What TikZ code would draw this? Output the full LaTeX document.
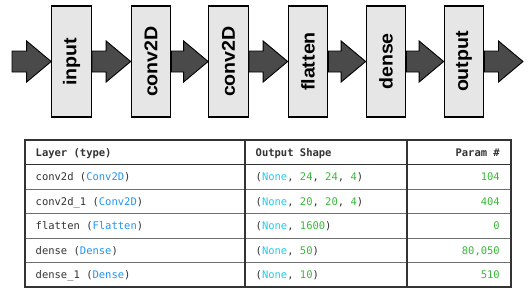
\documentclass[tikz,border=0pt]{standalone}
\usepackage{fontspec}
\newfontfamily\labfont{Liberation Sans}
\newfontfamily\monofont{DejaVu Sans Mono}
\usetikzlibrary{calc}
\definecolor{arrowfill}{HTML}{4A4A4A}
\definecolor{boxfill}{HTML}{E6E6E6}
\definecolor{txt}{HTML}{333333}
\definecolor{clsblue}{HTML}{2196F3}
\definecolor{nonecyan}{HTML}{22CCF2}
\definecolor{numgreen}{HTML}{3CB83C}
\definecolor{rowline}{HTML}{707070}
\newcommand{\cls}[1]{\textcolor{clsblue}{#1}}
\newcommand{\nn}{\textcolor{nonecyan}{None}}
\newcommand{\num}[1]{\textcolor{numgreen}{#1}}
\newcommand{\fatarrow}[2]{%
  \fill[arrowfill] let \p1=(#1), \p2=(#2) in
    (\x1,\y1+10.5pt) -- (\x2-24.5pt,\y1+10.5pt) -- (\x2-24.5pt,\y1+20.5pt) -- (\x2,\y1)
    -- (\x2-24.5pt,\y1-20.5pt) -- (\x2-24.5pt,\y1-10.5pt) -- (\x1,\y1-10.5pt) -- cycle;
  \draw[black, line width=0.9pt, line join=miter] let \p1=(#1), \p2=(#2) in
    (\x1,\y1+10.5pt) -- (\x2-24.5pt,\y1+10.5pt) -- (\x2-24.5pt,\y1+20.5pt) -- (\x2,\y1)
    -- (\x2-24.5pt,\y1-20.5pt) -- (\x2-24.5pt,\y1-10.5pt) -- (\x1,\y1-10.5pt) -- cycle;}
\begin{document}
\begin{tikzpicture}[x=1pt,y=-1pt,
  layerbox/.style={draw=black, line width=1.2pt, fill=boxfill, minimum width=39.5pt,
    minimum height=111pt, inner sep=0pt},
  laytext/.style={font=\labfont\bfseries\fontsize{18.5}{20}\selectfont, rotate=90, inner sep=0pt},
  celltext/.style={font=\monofont\fontsize{10.5}{12}\selectfont, text=txt, inner sep=0pt},
  headtext/.style={font=\monofont\bfseries\fontsize{10.5}{12}\selectfont, text=txt, inner sep=0pt}]
\useasboundingbox (0,0) rectangle (529,295);
\fill[white] (0,0) rectangle (529,295);
% layer boxes
\foreach \nm/\xx/\tx in {b1/71.5/input, b2/151/conv2D, b3/228.5/conv2D, b4/308/flatten, b5/386/dense, b6/464/output}{
  \node[layerbox] (\nm) at (\xx,61.5) {};
  \node[laytext] (\nm t) at (\xx,61.5) {\scalebox{1.06}[1]{\tx}};
}
\coordinate (s0) at (12,61.5);
\coordinate (e7) at (523,61.5);
\fatarrow{s0}{b1.west}
\fatarrow{b1.east}{b2.west}
\fatarrow{b2.east}{b3.west}
\fatarrow{b3.east}{b4.west}
\fatarrow{b4.east}{b5.west}
\fatarrow{b5.east}{b6.west}
\fatarrow{b6.east}{e7}
% table lines
\foreach \yy in {189,213.5,238,262.5}{
  \draw[rowline, line width=1pt] (25,\yy) -- (511,\yy);
}
\draw[txt, line width=1.6pt] (25,164.3) -- (511,164.3);
\draw[txt, line width=1.3pt] (245,140) -- (245,287);
\draw[txt, line width=1.3pt] (407,140) -- (407,287);
\draw[txt, line width=1.8pt] (25,140) rectangle (511,287);
% header
\node[headtext, anchor=base west] (h1) at (35.5,156) {Layer (type)};
\node[headtext, anchor=base west] (h2) at (255.5,156) {Output Shape};
\node[headtext, anchor=base east] (h3) at (500,156) {Param \#};
% rows
\foreach \r/\yy/\a/\b/\c in {
  r1/180.5/{conv2d (\cls{Conv2D})}/{(\nn, \num{24}, \num{24}, \num{4})}/{104},
  r2/205/{conv2d\_1 (\cls{Conv2D})}/{(\nn, \num{20}, \num{20}, \num{4})}/{404},
  r3/229.5/{flatten (\cls{Flatten})}/{(\nn, \num{1600})}/{0},
  r4/254/{dense (\cls{Dense})}/{(\nn, \num{50})}/{80,050},
  r5/278.5/{dense\_1 (\cls{Dense})}/{(\nn, \num{10})}/{510}}{
  \node[celltext, anchor=base west] (\r a) at (35.5,\yy) {\a};
  \node[celltext, anchor=base west] (\r b) at (255.5,\yy) {\b};
  \node[celltext, anchor=base east] (\r c) at (500,\yy) {\num{\c}};
}
\end{tikzpicture}
\end{document}
